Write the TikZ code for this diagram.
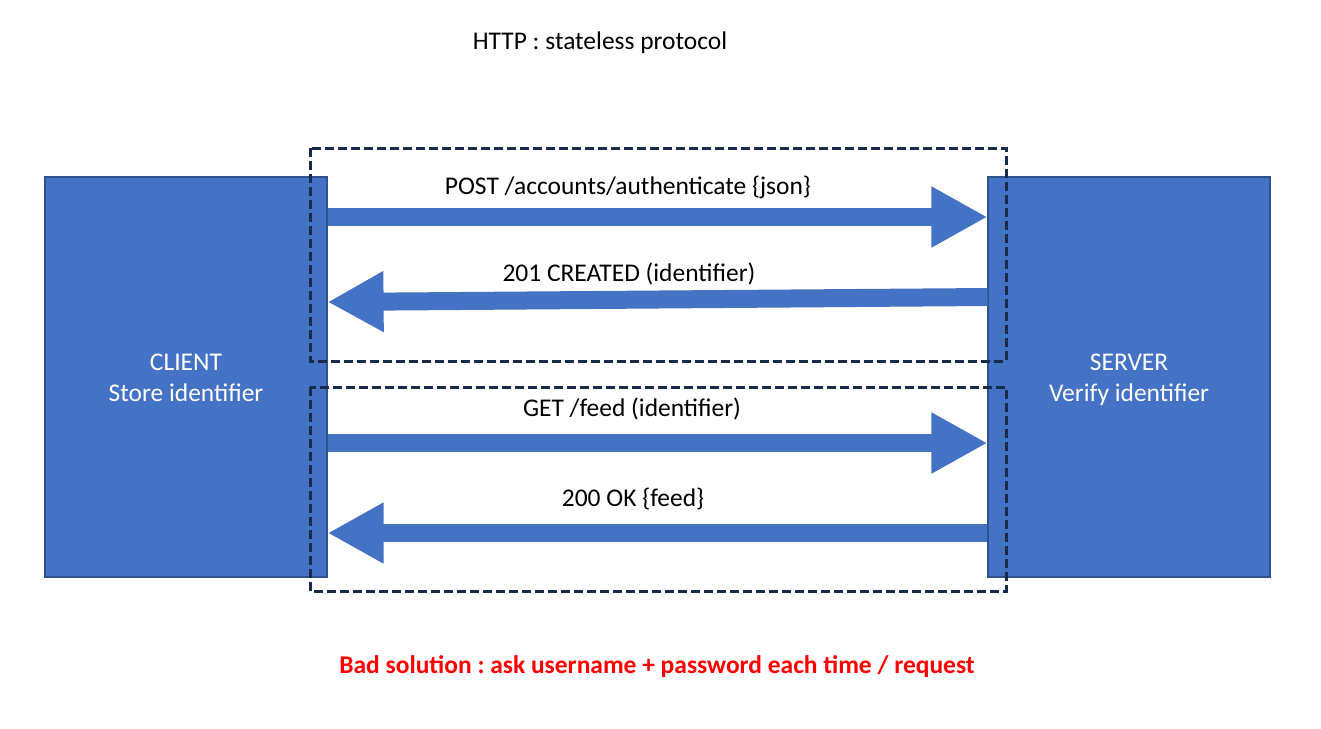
\documentclass[tikz,border=0pt]{standalone}
\usepackage{fontspec}
\setmainfont{Carlito}
\frenchspacing
\usetikzlibrary{arrows.meta, positioning}
\definecolor{boxblue}{RGB}{68,114,196}
\definecolor{edgeblue}{RGB}{47,82,143}
\definecolor{framenavy}{RGB}{23,43,77}
\definecolor{alertred}{RGB}{255,0,0}

\begin{document}
\begin{tikzpicture}[
                x=0.02cm, y=-0.02cm,
                peer/.style={rectangle, draw=edgeblue, line width=0.025cm, fill=boxblue, minimum width=5.64cm, minimum height=8cm, inner sep=0pt, align=center, text=white, font=\fontsize{14.5}{17.6}\selectfont},
                msg/.style={draw=boxblue, line width=0.36cm, -{Triangle[length=1.12cm, width=1.14cm]}},
                msgtext/.style={font=\fontsize{14.5}{17.6}\selectfont, inner sep=0pt, anchor=base},
                session/.style={draw=framenavy, line width=0.06cm, dash pattern=on 0.18cm off 0.08cm}
            ]
                \useasboundingbox (0,0) rectangle (1321,728);
                \node[msgtext] (title) at (600,49) {HTTP : stateless protocol};
                
                \node[peer] (client) at (186,377) {\strut CLIENT\\Store identifier\vphantom{y}};
                \node[peer, right=13.2cm of client] (server) {\strut SERVER\\Verify identifier\vphantom{y}};
                
                \draw[msg] (client.east |- 0,217) -- (server.west |- 0,217);
                \draw[msg] (server.west |- 0,297) -- (client.east |- 0,302);
                \draw[msg] (client.east |- 0,443) -- (server.west |- 0,443);
                \draw[msg] (server.west |- 0,533) -- (client.east |- 0,533);
                
                \node[msgtext] (authenticate) at (628,194) {POST /accounts/authenticate \{json\}};
                \node[msgtext] (created) at (629,281) {201 CREATED (identifier)};
                \node[msgtext] (feed) at (632,416) {GET /feed (identifier)};
                \node[msgtext] (ok) at (633,506) {200 OK \{feed\}};
                
                \draw[session] (310,148) rectangle (1006,361);
                \draw[session] (310,387) rectangle (1006,591);
                
                \node[msgtext, text=alertred, font=\fontsize{14.5}{17.6}\selectfont\bfseries] (warning) at (657,673) {Bad solution : ask username + password each time / request};
            \end{tikzpicture}
\end{document}
